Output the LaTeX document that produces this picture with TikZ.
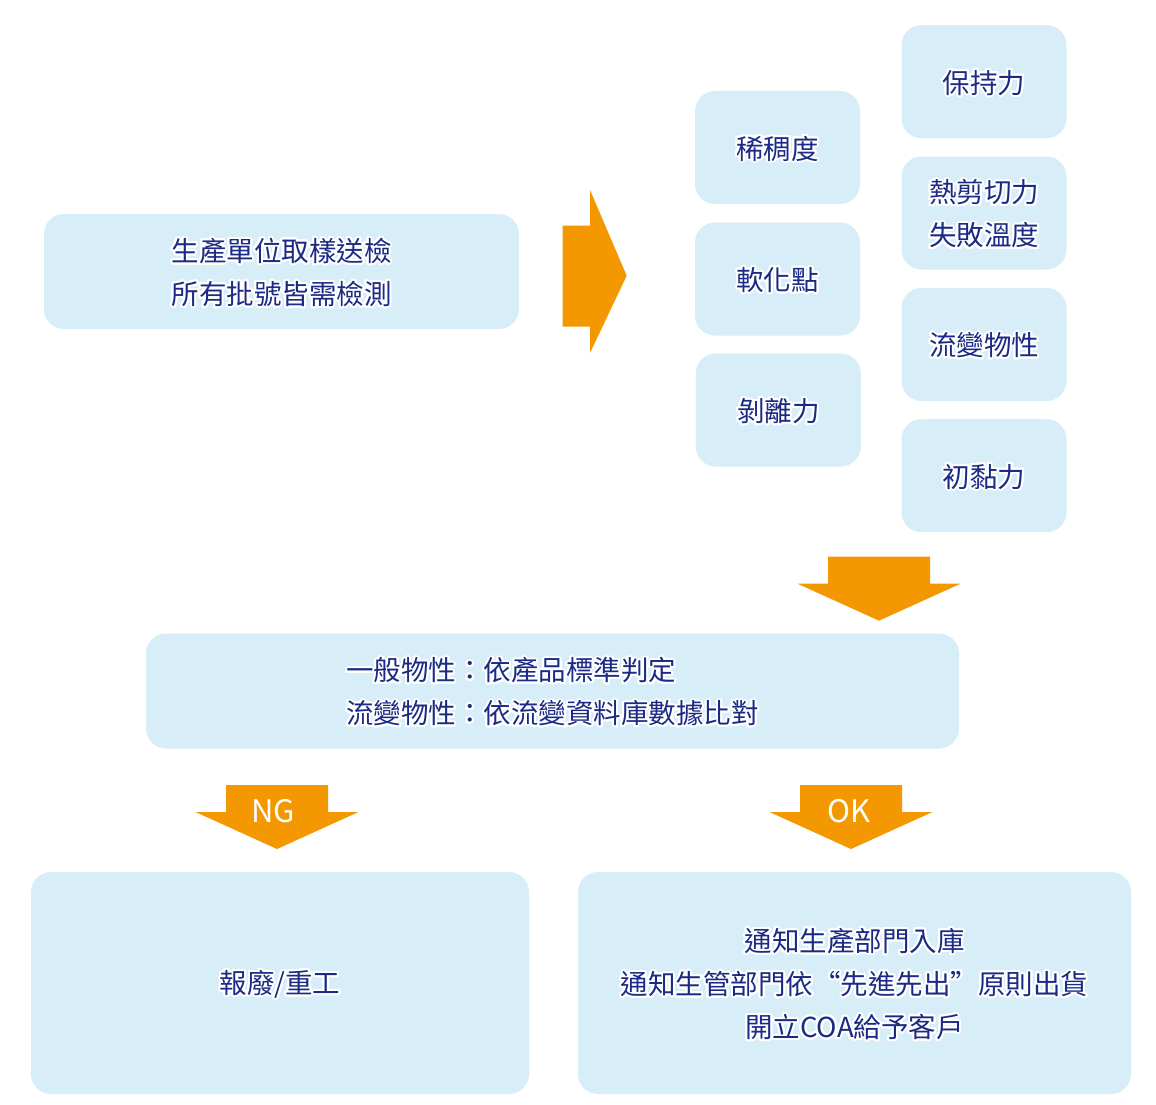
\documentclass[tikz,border=0pt]{standalone}
\usepackage{fontspec}
\setmainfont{Noto Sans CJK TC}
\usepackage[copies]{contour}
\contourlength{2pt}
\contournumber{32}
\definecolor{boxfill}{HTML}{D7EDF8}
\definecolor{arroworange}{HTML}{F39800}
\definecolor{navy}{HTML}{1B2A84}
\newcommand{\hl}[1]{\raisebox{-2pt}[\height][\depth]{\contour{white}{#1}}}
\newcommand{\openq}{\makebox[1em][r]{“}}
\newcommand{\closeq}{\makebox[1em][l]{”}}
\begin{document}
\begin{tikzpicture}[x=1pt,y=-1pt,
  box/.style={fill=boxfill, rounded corners=20pt, inner sep=0pt, text=navy,
    font=\fontsize{27.5}{43}\selectfont, align=center},
  small/.style={box, minimum width=165pt, minimum height=113pt},
  arrowlabel/.style={text=white, inner sep=0pt, font=\fontsize{31}{31}\selectfont},
  darrow/.pic={\fill[arroworange] (-51,0) -- (51,0) -- (51,27) -- (81.5,27) -- (0,64) -- (-81.5,27) -- (-51,27) -- cycle;}
]
\useasboundingbox (0,0) rectangle (1156,1105);
\fill[white] (0,0) rectangle (1156,1105);

% source box
\node[box, minimum width=475pt, minimum height=115pt] (src) at (281.5,271.5)
  {\hl{生產單位取樣送檢}\\\hl{所有批號皆需檢測}};

% right arrow
\coordinate (ra) at (562.7,275.7);
\fill[arroworange] (562.7,225.7) -- (590,225.7) -- (590,190) -- (626.7,275.7)
  -- (590,353) -- (590,326.7) -- (562.7,326.7) -- cycle;

% test items
\node[small] (xc) at (777.5,147.5) {\hl{稀稠度}};
\node[small] (rh) at (777.5,279) {\hl{軟化點}};
\node[small] (bl) at (778.3,410) {\hl{剝離力}};
\node[small] (bc) at (984,81.7) {\hl{保持力}};
\node[small] (rj) at (984,213) {\hl{熱剪切力}\\\hl{失敗溫度}};
\node[small] (lb) at (984,344.5) {\hl{流變物性}};
\node[small] (cn) at (984,475.7) {\hl{初黏力}};

% down arrow to judgement
\pic at (879,556.7) {darrow};

% judgement box
\node[box, minimum width=813pt, minimum height=115pt, align=left] (mid) at (552.5,691)
  {\hl{一般物性：依產品標準判定}\\\hl{流變物性：依流變資料庫數據比對}};

% NG / OK arrows
\pic at (277,785) {darrow};
\node[arrowlabel] (nglab) at (273,811) {NG};
\pic at (851,785) {darrow};
\node[arrowlabel] (oklab) at (849.5,811.5) {OK};

% results
\node[box, minimum width=498pt, minimum height=222pt] (ng) at (280,983)
  {\hl{報廢/重工}};
\node[box, minimum width=553pt, minimum height=222pt] (ok) at (854.5,983)
  {\hl{通知生產部門入庫}\\\hl{通知生管部門依\openq 先進先出\closeq 原則出貨}\\\hl{開立COA給予客戶}};
\end{tikzpicture}
\end{document}
